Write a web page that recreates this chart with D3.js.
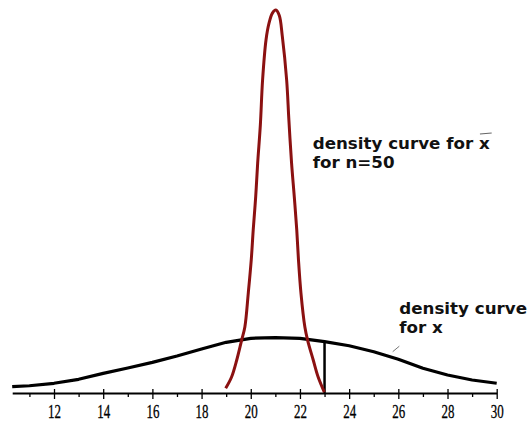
<!DOCTYPE html>
<html>
<head>
<meta charset="utf-8">
<script src="https://cdn.jsdelivr.net/npm/d3@7"></script>
<style>
  body { margin: 0; background: #fff; }
  svg { display: block; }
</style>
</head>
<body>
<svg id="svg"></svg>
<script>
// density of x (black) at whole x values
const popX = [10.3, 11, 12, 13, 14, 15, 16, 17, 18, 19, 20, 21, 22, 23, 24, 25, 26, 27, 28, 29, 30];
const popY = [0.0103, 0.0119, 0.0159, 0.0224, 0.0322, 0.0409, 0.0502, 0.0606, 0.0720, 0.0830, 0.0895,
  0.0908, 0.0895, 0.0840, 0.0774, 0.0676, 0.0552, 0.0404, 0.0295, 0.0213, 0.0159];

// density of the sample mean, n = 50 (red)
const meanX = [18.98, 19.22, 19.43, 19.63, 19.76, 19.90, 20.02, 20.10, 20.20, 20.28, 20.39, 20.48, 20.62,
  20.74, 20.88, 21.02, 21.16, 21.28, 21.46, 21.55, 21.66, 21.77, 21.87, 21.94, 22.04, 22.20, 22.31, 22.54, 22.74, 22.99];
const meanY = [0.0077, 0.0262, 0.054, 0.0867, 0.108, 0.164, 0.218, 0.267, 0.321, 0.376, 0.439, 0.512, 0.578,
  0.605, 0.622, 0.627, 0.618, 0.585, 0.512, 0.447, 0.376, 0.321, 0.267, 0.218, 0.164, 0.108, 0.0867, 0.054, 0.0262, 0.0016];

const ticks = d3.range(11, 31);
const tickLabels = ['12', '14', '16', '18', '20', '22', '24', '26', '28', '30'];
const cutX = 23;

const width = 531, height = 425;

const svg = d3.select('#svg')
  .attr('width', width)
  .attr('height', height);

const x = d3.scaleLinear().domain([10.3, 30]).range([12.2, 496.7]);
const y = d3.scaleLinear().domain([0, 0.627]).range([393, 10]);

// axis
const axis = svg.append('g')
  .attr('transform', `translate(0,${y(0)})`)
  .call(d3.axisBottom(x)
    .tickValues(ticks)
    .tickSizeOuter(0)
    .tickFormat(d => tickLabels.includes(String(d)) ? String(d) : ''));

axis.select('.domain')
  .attr('stroke', '#000')
  .attr('stroke-width', 2);

axis.selectAll('.tick line')
  .attr('stroke', '#000')
  .attr('stroke-width', 1.3)
  .attr('y1', d => d % 2 === 0 ? -4 : 0)
  .attr('y2', d => d % 2 === 0 ? 6 : 4);

axis.selectAll('.tick text')
  .attr('dy', null)
  .attr('y', 25)
  .attr('transform', 'scale(0.72,1)')
  .attr('fill', '#000')
  .attr('stroke', '#000')
  .attr('stroke-width', 0.3)
  .style('font-family', '"Liberation Serif", "DejaVu Serif", serif')
  .style('font-size', '18px');

const line = d3.line()
  .curve(d3.curveLinear)
  .x(d => x(d[0]))
  .y(d => y(d[1]));

// black curve
svg.append('path')
  .datum(d3.zip(popX, popY))
  .attr('d', line)
  .attr('fill', 'none')
  .attr('stroke', '#000')
  .attr('stroke-width', 3.2)
  .attr('stroke-linejoin', 'round');

// vertical line at 23 up to the black curve
const cutIdx = popX.indexOf(cutX);
svg.append('line')
  .attr('x1', x(cutX)).attr('x2', x(cutX))
  .attr('y1', y(0)).attr('y2', y(popY[cutIdx]))
  .attr('stroke', '#000')
  .attr('stroke-width', 2.5);

// red curve
svg.append('path')
  .datum(d3.zip(meanX, meanY))
  .attr('d', line.curve(d3.curveCatmullRom))
  .attr('fill', 'none')
  .attr('stroke', '#8b1111')
  .attr('stroke-width', 3)
  .attr('stroke-linejoin', 'round');

// annotations
const font = '"DejaVu Sans", Verdana, sans-serif';

const lab1 = svg.append('text')
  .attr('x', 312.7).attr('y', 149.3)
  .style('font-family', font)
  .style('font-size', '16.7px')
  .style('font-weight', 'bold')
  .attr('fill', '#111');
lab1.append('tspan').text('density curve for ');
const xbar = lab1.append('tspan').text('x');

svg.append('text')
  .attr('x', 312.7).attr('y', 168.3)
  .style('font-family', font)
  .style('font-size', '16.7px')
  .style('font-weight', 'bold')
  .attr('fill', '#111')
  .text('for n=50');

// bar over the x
const full = lab1.node().getComputedTextLength();
const xw = xbar.node().getComputedTextLength();
svg.append('line')
  .attr('x1', 312.7 + full - xw + 1).attr('x2', 312.7 + full + 2)
  .attr('y1', 134).attr('y2', 133)
  .attr('stroke', '#666')
  .attr('stroke-width', 1.2);

svg.append('text')
  .attr('x', 399.3).attr('y', 314.3)
  .style('font-family', font)
  .style('font-size', '16.7px')
  .style('font-weight', 'bold')
  .attr('fill', '#111')
  .text('density curve');

svg.append('text')
  .attr('x', 399.3).attr('y', 333.3)
  .style('font-family', font)
  .style('font-size', '16.7px')
  .style('font-weight', 'bold')
  .attr('fill', '#111')
  .text('for x');

// pointer from the label to the curve
svg.append('line')
  .attr('x1', 392.7).attr('y1', 351.7)
  .attr('x2', 399.3).attr('y2', 346.2)
  .attr('stroke', '#777')
  .attr('stroke-width', 1);
</script>
</body>
</html>
